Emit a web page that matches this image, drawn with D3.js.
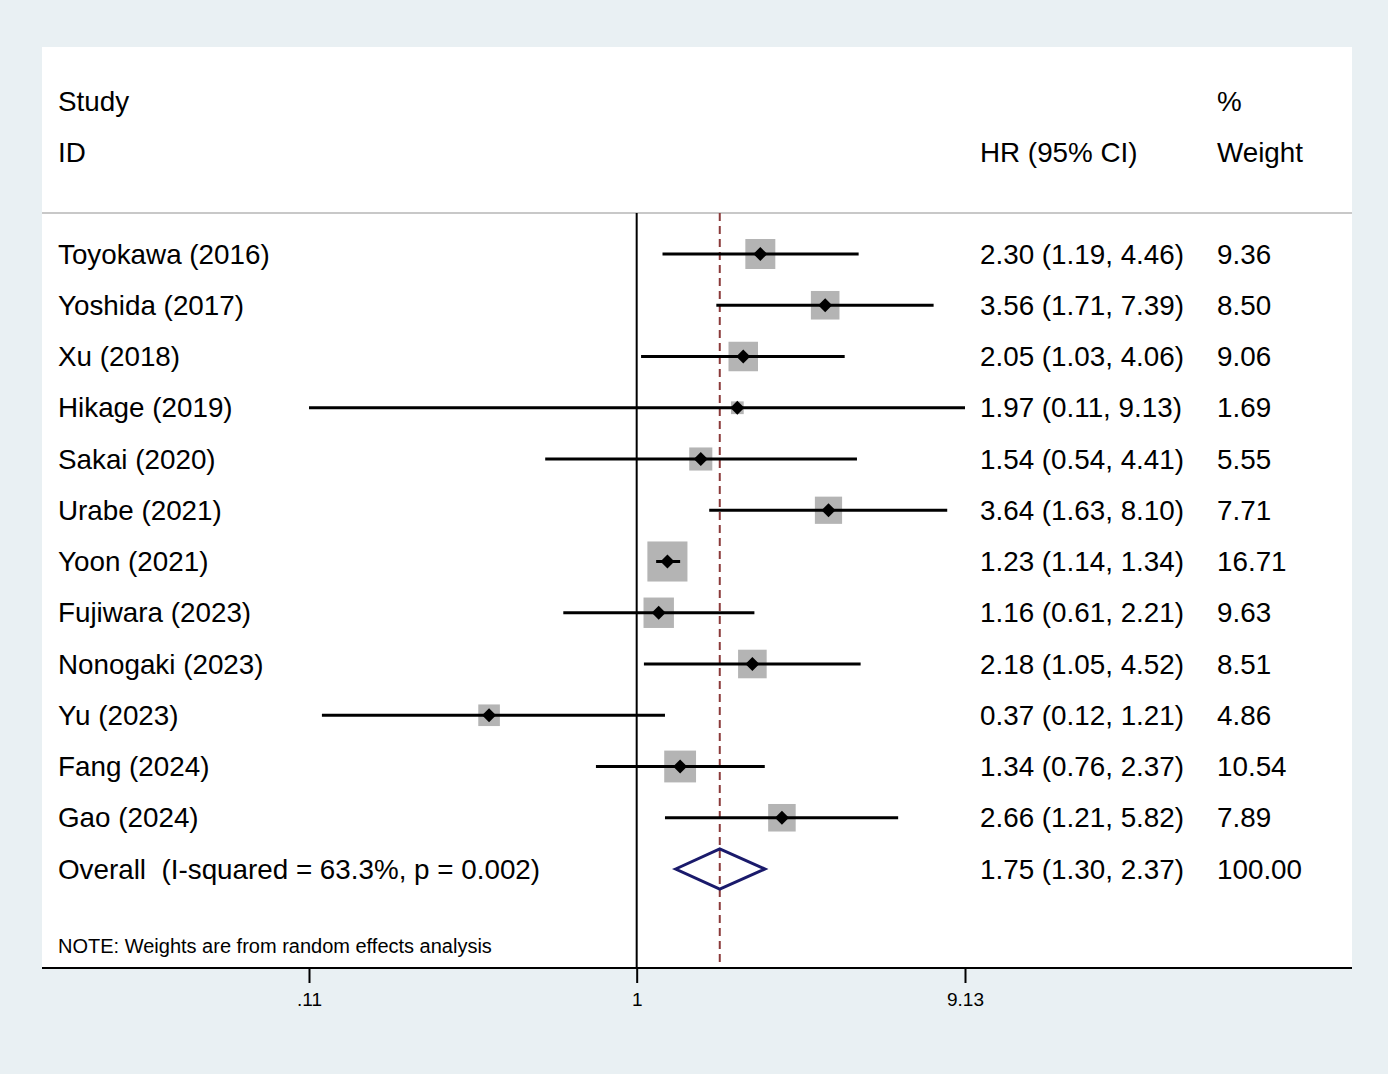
<!DOCTYPE html>
<html>
<head>
<meta charset="utf-8">
<script src="https://cdn.jsdelivr.net/npm/d3@7"></script>
<style>
  html, body { margin: 0; padding: 0; background: #e9f0f3; }
  svg { display: block; font-family: "Liberation Sans", Arial, Helvetica, sans-serif; }
</style>
</head>
<body>
<svg id="chart" width="1388" height="1074"></svg>
<script>
// study data
const studies = [
  "Toyokawa (2016)", "Yoshida (2017)", "Xu (2018)", "Hikage (2019)",
  "Sakai (2020)", "Urabe (2021)", "Yoon (2021)", "Fujiwara (2023)",
  "Nonogaki (2023)", "Yu (2023)", "Fang (2024)", "Gao (2024)"
];
const hr = [2.30, 3.56, 2.05, 1.97, 1.54, 3.64, 1.23, 1.16, 2.18, 0.37, 1.34, 2.66];
const lower = [1.19, 1.71, 1.03, 0.11, 0.54, 1.63, 1.14, 0.61, 1.05, 0.12, 0.76, 1.21];
const upper = [4.46, 7.39, 4.06, 9.13, 4.41, 8.10, 1.34, 2.21, 4.52, 1.21, 2.37, 5.82];
const weights = [9.36, 8.50, 9.06, 1.69, 5.55, 7.71, 16.71, 9.63, 8.51, 4.86, 10.54, 7.89];

// pooled estimate
const overallLabel = "Overall  (I-squared = 63.3%, p = 0.002)";
const overall = [1.75, 1.30, 2.37];
const overallWeight = 100.00;

// axis ticks
const tickValues = [0.11, 1, 9.13];
const tickLabels = [".11", "1", "9.13"];

const note = "NOTE: Weights are from random effects analysis";

const svg = d3.select("#chart");

// panel geometry
const panel = { left: 42, right: 1352, top: 47, bottom: 968 };
const sepY = 213;
const fontSize = 27.8;

// white plotting panel
svg.append("rect")
  .attr("x", panel.left)
  .attr("y", panel.top)
  .attr("width", panel.right - panel.left)
  .attr("height", panel.bottom - panel.top)
  .attr("fill", "#ffffff");

// scales
const x = d3.scaleLog().domain([0.11, 9.13]).range([309, 965]);
const rowKeys = d3.range(studies.length + 1);
const y = d3.scalePoint().domain(rowKeys).range([254, 869]);
const boxSize = w => 9.8 * Math.sqrt(w);

const fmt = d3.format(".2f");

// header
const header = svg.append("g").attr("font-size", fontSize).attr("fill", "#000");
header.append("text").attr("x", 58).attr("y", 101).attr("dy", "0.35em").text("Study");
header.append("text").attr("x", 58).attr("y", 152).attr("dy", "0.35em").text("ID");
header.append("text").attr("x", 980).attr("y", 152).attr("dy", "0.35em").text("HR (95% CI)");
header.append("text").attr("x", 1217).attr("y", 101).attr("dy", "0.35em").text("%");
header.append("text").attr("x", 1217).attr("y", 152).attr("dy", "0.35em").text("Weight");

// header separator
svg.append("line")
  .attr("x1", panel.left).attr("x2", panel.right)
  .attr("y1", sepY).attr("y2", sepY)
  .attr("stroke", "#c8c8c8")
  .attr("stroke-width", 2);

// null line at 1
svg.append("line")
  .attr("x1", x(1)).attr("x2", x(1))
  .attr("y1", sepY).attr("y2", panel.bottom)
  .attr("stroke", "#000")
  .attr("stroke-width", 2);

// pooled estimate line
svg.append("line")
  .attr("x1", x(overall[0])).attr("x2", x(overall[0]))
  .attr("y1", sepY).attr("y2", panel.bottom)
  .attr("stroke", "#8b3a3a")
  .attr("stroke-width", 2)
  .attr("stroke-dasharray", "8,5");

// study rows
const rows = svg.append("g")
  .selectAll("g")
  .data(studies.map((s, i) => ({ s, i })))
  .join("g")
  .attr("transform", d => `translate(0,${y(d.i)})`);

rows.append("rect")
  .attr("x", d => x(hr[d.i]) - boxSize(weights[d.i]) / 2)
  .attr("y", d => -boxSize(weights[d.i]) / 2)
  .attr("width", d => boxSize(weights[d.i]))
  .attr("height", d => boxSize(weights[d.i]))
  .attr("fill", "#b4b4b4");

rows.append("line")
  .attr("x1", d => x(lower[d.i]))
  .attr("x2", d => x(upper[d.i]))
  .attr("y1", 0).attr("y2", 0)
  .attr("stroke", "#000")
  .attr("stroke-width", 3);

rows.append("path")
  .attr("d", d => {
    const cx = x(hr[d.i]);
    return `M${cx - 7},0L${cx},-7L${cx + 7},0L${cx},7Z`;
  })
  .attr("fill", "#000");

rows.append("text")
  .attr("x", 58).attr("dy", "0.35em")
  .attr("font-size", fontSize)
  .text(d => d.s);

rows.append("text")
  .attr("x", 980).attr("dy", "0.35em")
  .attr("font-size", fontSize)
  .text(d => `${fmt(hr[d.i])} (${fmt(lower[d.i])}, ${fmt(upper[d.i])})`);

rows.append("text")
  .attr("x", 1217).attr("dy", "0.35em")
  .attr("font-size", fontSize)
  .text(d => fmt(weights[d.i]));

// overall row
const oy = y(studies.length);
svg.append("path")
  .attr("d", `M${x(overall[1])},${oy}L${x(overall[0])},${oy - 20}L${x(overall[2])},${oy}L${x(overall[0])},${oy + 20}Z`)
  .attr("fill", "none")
  .attr("stroke", "#1a1a6b")
  .attr("stroke-width", 3);

svg.append("text").attr("x", 58).attr("y", oy).attr("dy", "0.35em")
  .attr("font-size", fontSize)
  .style("white-space", "pre")
  .text(overallLabel);
svg.append("text").attr("x", 980).attr("y", oy).attr("dy", "0.35em")
  .attr("font-size", fontSize)
  .text(`${fmt(overall[0])} (${fmt(overall[1])}, ${fmt(overall[2])})`);
svg.append("text").attr("x", 1217).attr("y", oy).attr("dy", "0.35em")
  .attr("font-size", fontSize).text(fmt(overallWeight));

// note
svg.append("text")
  .attr("x", 58).attr("y", 946).attr("dy", "0.35em")
  .attr("font-size", 20)
  .text(note);

// x axis
const axis = d3.axisBottom(x)
  .tickValues(tickValues)
  .tickFormat((d, i) => tickLabels[i])
  .tickSize(15)
  .tickPadding(10)
  .tickSizeOuter(0);

const axisG = svg.append("g")
  .attr("transform", `translate(0,${panel.bottom})`)
  .call(axis);

axisG.select(".domain").remove();
axisG.selectAll(".tick line").attr("stroke", "#000").attr("stroke-width", 2);
axisG.selectAll(".tick text")
  .attr("font-size", 19)
  .attr("font-family", "'Liberation Sans', Arial, sans-serif")
  .attr("fill", "#000");

svg.append("line")
  .attr("x1", panel.left).attr("x2", panel.right)
  .attr("y1", panel.bottom).attr("y2", panel.bottom)
  .attr("stroke", "#000")
  .attr("stroke-width", 2);
</script>
</body>
</html>
